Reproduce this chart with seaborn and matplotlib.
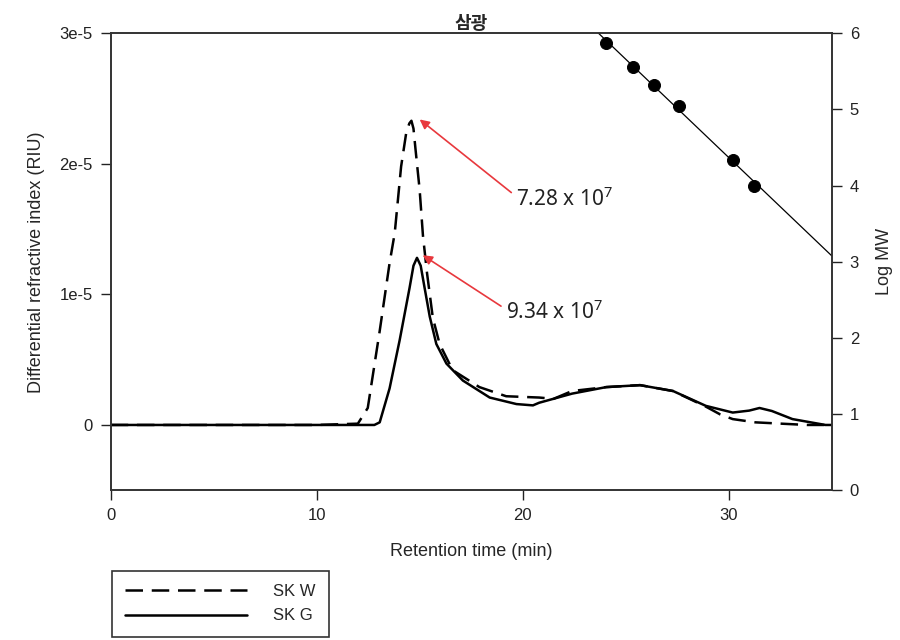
import numpy as np
import pandas as pd
import matplotlib
matplotlib.use("Agg")
import matplotlib.pyplot as plt
import seaborn as sns

# SK W (dashed) chromatogram, retention time (min) vs RI signal (x1e-5 RIU)
skw_time = [0, 5, 10, 12.0, 12.48, 13.06, 13.54, 13.79, 14.1, 14.35, 14.5, 14.6, 14.7, 14.8,
            15.0, 15.16, 15.36, 15.64, 15.97, 16.6, 17.9, 19.2, 20.8, 21.5, 22.4, 24.06,
            25.7, 27.3, 28.9, 29.6, 30.2, 31.3, 33.8, 35]
skw_signal = [0, 0, 0, 0.01, 0.13, 0.72, 1.24, 1.47, 1.98, 2.24, 2.31, 2.33, 2.27, 2.11,
              1.8, 1.45, 1.16, 0.82, 0.62, 0.42, 0.29, 0.22, 0.21, 0.2, 0.26, 0.29,
              0.305, 0.26, 0.14, 0.08, 0.045, 0.02, 0.0, 0.0]

# SK G (solid) chromatogram
skg_time = [0, 5, 10, 12.8, 13.06, 13.54, 14.03, 14.51, 14.7, 14.87, 15.05, 15.24, 15.49,
            15.81, 16.3, 17.1, 18.4, 19.7, 20.5, 20.8, 22.4, 24.06, 25.7, 27.3, 28.9,
            30.2, 31.0, 31.5, 32.1, 33.1, 34.7, 35]
skg_signal = [0, 0, 0, 0.0, 0.02, 0.28, 0.65, 1.05, 1.22, 1.28, 1.22, 1.05, 0.83,
              0.62, 0.47, 0.34, 0.21, 0.16, 0.15, 0.17, 0.24, 0.29, 0.305, 0.26, 0.146,
              0.095, 0.11, 0.13, 0.107, 0.045, 0.0, 0.0]

# calibration standards
cal_time = [24.06, 25.37, 26.36, 27.57, 30.23, 31.23]
cal_logmw = [5.87, 5.56, 5.32, 5.05, 4.34, 4.0]

peak_labels = ["7.28 x 10$^{7}$", "9.34 x 10$^{7}$"]
peak_xy = [(15.0, 2.34e-5), (15.15, 1.30e-5)]
label_xy = [(19.7, 1.73e-5), (19.2, 0.86e-5)]

sns.set_style("ticks")
plt.rcParams["font.family"] = ["Liberation Sans", "DejaVu Sans"]
plt.rcParams["mathtext.default"] = "regular"

df_w = pd.DataFrame({"time": skw_time, "signal": np.array(skw_signal) * 1e-5})
df_g = pd.DataFrame({"time": skg_time, "signal": np.array(skg_signal) * 1e-5})
df_cal = pd.DataFrame({"time": cal_time, "logmw": cal_logmw})

fig = plt.figure(figsize=(9, 6.4), dpi=100)
ax = fig.add_axes([0.123, 0.234, 0.801, 0.714])

sns.lineplot(data=df_w, x="time", y="signal", ax=ax, color="black", lw=1.8,
             linestyle=(0, (7, 3.5)), label="SK W")
sns.lineplot(data=df_g, x="time", y="signal", ax=ax, color="black", lw=1.8,
             label="SK G")

ax.set_xlim(0, 35)
ax.set_ylim(-5e-6, 3e-5)
ax.set_xticks([0, 10, 20, 30])
ax.set_yticks([0, 1e-5, 2e-5, 3e-5])
ax.set_yticklabels(["0", "1e-5", "2e-5", "3e-5"])
ax.set_xlabel("Retention time (min)", fontsize=13, labelpad=14)
ax.set_ylabel("Differential refractive index (RIU)", fontsize=13, labelpad=10)
ax.tick_params(direction="out", length=7, width=1, labelsize=12, colors="#222222", pad=6)
for s in ax.spines.values():
    s.set_linewidth(1.2)
    s.set_color("#333333")
ax.set_title("삼광", fontsize=13, fontweight="bold", family=["Noto Sans CJK KR", "DejaVu Sans"], pad=3)

# peak annotations
for txt, (px, py), (tx, ty) in zip(peak_labels, peak_xy, label_xy):
    ax.annotate("", xy=(px, py), xytext=(tx - 0.25, ty + 0.05e-5),
                arrowprops=dict(arrowstyle="-|>", color="#e8383d", lw=1.2,
                                mutation_scale=14, shrinkA=0, shrinkB=0))
    ax.text(tx, ty, txt, fontsize=15, va="center", ha="left", color="#222222",
            family=["Noto Sans", "DejaVu Sans"])

# right axis: calibration curve
ax2 = ax.twinx()
fit = np.polyfit(cal_time, cal_logmw, 1)
line_t = np.array([20, 35])
sns.lineplot(x=line_t, y=np.polyval(fit, line_t), ax=ax2, color="black", lw=0.9)
sns.scatterplot(data=df_cal, x="time", y="logmw", ax=ax2, color="black", s=75,
                edgecolor="black", zorder=5)
ax2.set_ylim(0, 6)
ax2.set_xlim(0, 35)
ax2.set_yticks(range(0, 7))
ax2.set_ylabel("Log MW", fontsize=13, labelpad=12)
ax2.tick_params(direction="out", length=7, width=1, labelsize=12, colors="#222222", pad=6)
for s in ax2.spines.values():
    s.set_linewidth(1.2)
    s.set_color("#333333")

# legend below plot
handles, labels = ax.get_legend_handles_labels()
ax.get_legend().remove()
leg = fig.legend(handles, labels, loc="upper left", bbox_to_anchor=(0.124, 0.108),
                 frameon=True, fancybox=False, edgecolor="black", fontsize=12,
                 handlelength=7.3, handletextpad=1.6, borderpad=0.8, labelspacing=0.55,
                 borderaxespad=0)
leg.get_frame().set_linewidth(1.2)

fig.savefig("out.png", dpi=100)
